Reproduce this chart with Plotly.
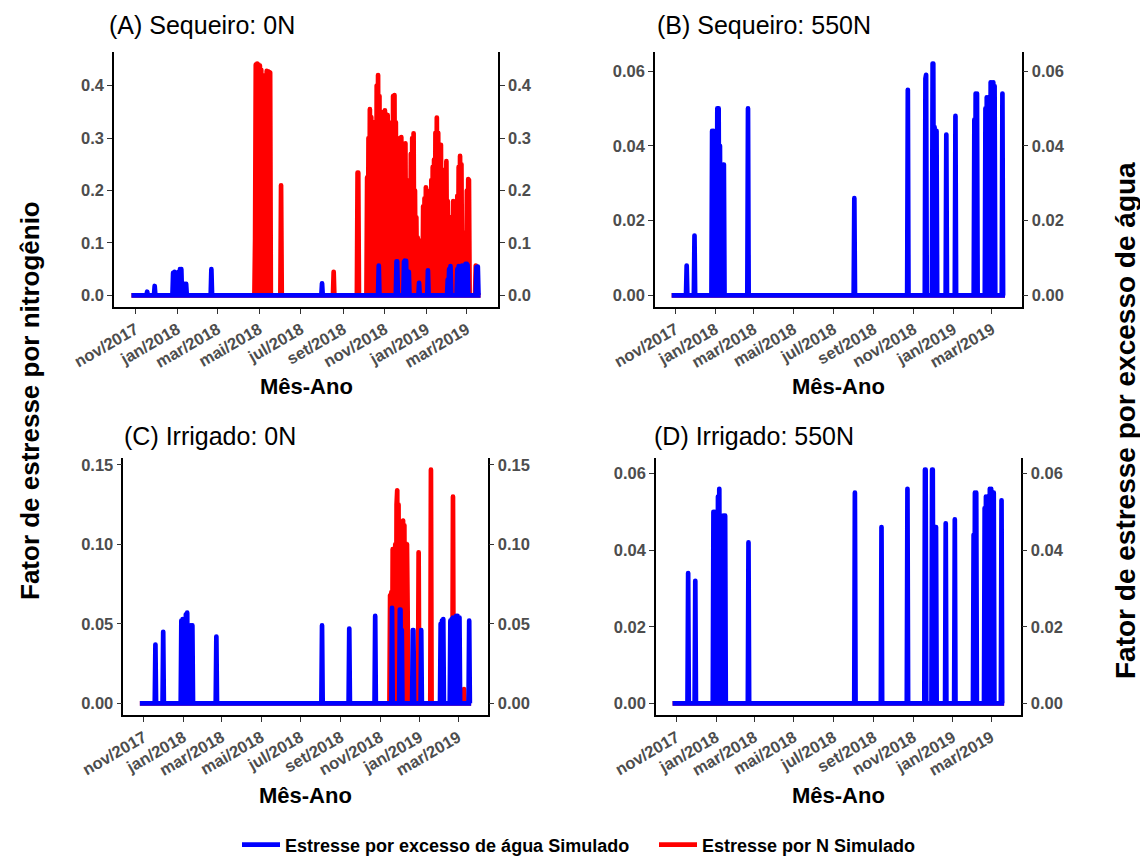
import pandas as pd
import plotly.graph_objects as go

# ---------------------------------------------------------------------------
# Simulated daily stress factors (zero on all days not listed)
# each entry: (first day, [consecutive daily values])
# ---------------------------------------------------------------------------
START = "2017-10-26"
END = "2019-03-21"

TICK_DATES = ["2017-11-01", "2018-01-01", "2018-03-01", "2018-05-01", "2018-07-01",
              "2018-09-01", "2018-11-01", "2019-01-01", "2019-03-01"]
TICK_LABELS = ["nov/2017", "jan/2018", "mar/2018", "mai/2018", "jul/2018",
               "set/2018", "nov/2018", "jan/2019", "mar/2019"]

PANEL_TITLES = ["(A) Sequeiro: 0N", "(B) Sequeiro: 550N",
                "(C) Irrigado: 0N", "(D) Irrigado: 550N"]

Y_TICKS_A = [0.0, 0.1, 0.2, 0.3, 0.4]
Y_TICKS_B = [0.00, 0.02, 0.04, 0.06]
Y_TICKS_C = [0.00, 0.05, 0.10, 0.15]
Y_TICKS_D = [0.00, 0.02, 0.04, 0.06]

WATER_NAME = "Estresse por excesso de água Simulado"
N_NAME = "Estresse por N Simulado"

# (A) Sequeiro 0N
A_WATER = [
    ("2017-11-18", [0.007]),
    ("2017-11-29", [0.018]),
    ("2017-12-26", [0.043, 0.0, 0.045, 0.0, 0.03, 0.0, 0.0, 0.0, 0.045, 0.0,
                    0.05, 0.0, 0.05, 0.0, 0.0, 0.02, 0.0, 0.022, 0.0, 0.022]),
    ("2018-02-20", [0.05]),
    ("2018-08-01", [0.023]),
    ("2018-10-23", [0.057]),
    ("2018-11-18", [0.065, 0.065]),
    ("2018-11-29", [0.064, 0.066, 0.0, 0.066, 0.0, 0.045, 0.0, 0.045]),
    ("2018-12-21", [0.024]),
    ("2019-01-03", [0.048]),
    ("2019-02-01", [0.03, 0.0, 0.05, 0.0, 0.056]),
    ("2019-02-15", [0.05, 0.0, 0.056, 0.0, 0.0, 0.055, 0.0, 0.057, 0.0, 0.0,
                    0.05, 0.0, 0.06, 0.0, 0.06, 0.058]),
    ("2019-03-15", [0.054, 0.0, 0.055]),
]
A_N = [
    ("2018-04-25", [0.108, 0.44, 0.0, 0.442, 0.0, 0.44, 0.0, 0.438, 0.0, 0.43,
                    0.0, 0.40, 0.0, 0.39, 0.0, 0.42, 0.0, 0.428, 0.0, 0.427,
                    0.0, 0.426, 0.425]),
    ("2018-06-02", [0.21]),
    ("2018-08-18", [0.045]),
    ("2018-09-22", [0.234, 0.234]),
    ("2018-10-06", [0.225, 0.0, 0.30, 0.0, 0.355, 0.0, 0.34, 0.0, 0.33, 0.0,
                    0.33, 0.0, 0.328, 0.0, 0.40, 0.0, 0.42, 0.0, 0.38, 0.0,
                    0.29, 0.0, 0.30, 0.0, 0.35, 0.0, 0.353, 0.0, 0.345, 0.0,
                    0.344, 0.0, 0.32, 0.0, 0.29, 0.0, 0.33, 0.0, 0.38, 0.0,
                    0.382, 0.0, 0.33, 0.0, 0.26, 0.0, 0.27, 0.0, 0.30, 0.0,
                    0.302, 0.0, 0.28, 0.0, 0.28, 0.0, 0.29, 0.0, 0.21, 0.0,
                    0.20, 0.0, 0.22, 0.0, 0.27, 0.0, 0.30, 0.0, 0.309, 0.0,
                    0.20, 0.0, 0.149, 0.0, 0.11, 0.0, 0.105, 0.0, 0.10, 0.0,
                    0.10, 0.0, 0.17, 0.0, 0.185, 0.0, 0.206, 0.0, 0.20, 0.0,
                    0.14, 0.0, 0.13, 0.0, 0.22, 0.0, 0.245, 0.0, 0.259, 0.0,
                    0.31, 0.0, 0.339, 0.0, 0.31, 0.0, 0.285, 0.0, 0.287, 0.0,
                    0.21, 0.0, 0.21, 0.0, 0.24, 0.0, 0.256, 0.0, 0.18, 0.0,
                    0.08, 0.0, 0.09, 0.0, 0.15, 0.0, 0.18, 0.0, 0.175, 0.0,
                    0.16, 0.0, 0.19, 0.0, 0.245, 0.0, 0.266, 0.0, 0.25, 0.0,
                    0.08, 0.0, 0.05, 0.0, 0.12, 0.0, 0.20, 0.0, 0.222, 0.22]),
    ("2019-03-14", [0.057]),
]

# (B) Sequeiro 550N
B_WATER = [
    ("2017-11-18", [0.008]),
    ("2017-11-30", [0.016]),
    ("2017-12-27", [0.044, 0.0, 0.044, 0.0, 0.0, 0.0, 0.04, 0.0, 0.05, 0.0,
                    0.05, 0.0, 0.04, 0.0, 0.0, 0.035, 0.0, 0.035, 0.035]),
    ("2018-02-20", [0.05]),
    ("2018-08-02", [0.026]),
    ("2018-10-23", [0.055]),
    ("2018-11-19", [0.058, 0.059]),
    ("2018-11-30", [0.062, 0.062, 0.0, 0.045, 0.0, 0.044, 0.044]),
    ("2018-12-21", [0.043]),
    ("2019-01-04", [0.048]),
    ("2019-02-02", [0.047, 0.0, 0.054, 0.0, 0.054]),
    ("2019-02-19", [0.05, 0.0, 0.053, 0.0, 0.053, 0.0, 0.03, 0.0, 0.057, 0.0,
                    0.057, 0.0, 0.057, 0.0, 0.056]),
    ("2019-03-17", [0.054]),
]
B_N = []  # no nitrogen stress simulated at 550N

# (C) Irrigado 0N
C_WATER = [
    ("2017-11-19", [0.037]),
    ("2017-12-01", [0.045]),
    ("2017-12-29", [0.052, 0.0, 0.053, 0.0, 0.0, 0.05, 0.0, 0.056, 0.0, 0.057,
                    0.0, 0.0, 0.04, 0.0, 0.049, 0.0, 0.049, 0.049]),
    ("2018-02-21", [0.042]),
    ("2018-08-03", [0.049]),
    ("2018-09-14", [0.047]),
    ("2018-10-24", [0.055]),
    ("2018-11-19", [0.06]),
    ("2018-12-01", [0.059, 0.059, 0.0, 0.046]),
    ("2018-12-21", [0.046, 0.046]),
    ("2019-01-03", [0.046]),
    ("2019-02-02", [0.05, 0.0, 0.052, 0.0, 0.053]),
    ("2019-02-17", [0.052, 0.0, 0.053, 0.0, 0.054, 0.0, 0.0, 0.05, 0.0, 0.055,
                    0.0, 0.055, 0.0, 0.054, 0.054]),
    ("2019-03-18", [0.052]),
]
C_N = [
    ("2018-11-16", [0.068, 0.0, 0.07, 0.0, 0.097, 0.0, 0.097, 0.0, 0.10, 0.0,
                    0.125, 0.134, 0.0, 0.125, 0.0, 0.108, 0.0, 0.108, 0.0, 0.113,
                    0.115, 0.0, 0.112, 0.0, 0.1005, 0.0, 0.10, 0.06]),
    ("2018-12-30", [0.095]),
    ("2019-01-18", [0.147]),
    ("2019-02-21", [0.13]),
    ("2019-03-10", [0.009]),
]

# (D) Irrigado 550N
D_WATER = [
    ("2017-11-19", [0.034]),
    ("2017-11-30", [0.032]),
    ("2017-12-28", [0.05, 0.0, 0.05, 0.0, 0.0, 0.03, 0.0, 0.054, 0.0, 0.056,
                    0.0, 0.035, 0.0, 0.04, 0.0, 0.049, 0.0, 0.049, 0.049]),
    ("2018-02-20", [0.042]),
    ("2018-08-03", [0.055]),
    ("2018-09-13", [0.046]),
    ("2018-10-23", [0.056]),
    ("2018-11-19", [0.061, 0.061]),
    ("2018-11-30", [0.061, 0.061, 0.0, 0.046, 0.0, 0.046, 0.046]),
    ("2018-12-21", [0.047]),
    ("2019-01-04", [0.048]),
    ("2019-02-02", [0.044, 0.0, 0.055, 0.0, 0.055]),
    ("2019-02-19", [0.051, 0.0, 0.054, 0.0, 0.054, 0.0, 0.03, 0.0, 0.056, 0.0,
                    0.056, 0.0, 0.055, 0.0, 0.055]),
    ("2019-03-17", [0.053]),
]
D_N = []  # no nitrogen stress simulated at 550N

# ---------------------------------------------------------------------------
FONT = "Liberation Sans, Arial, Helvetica, sans-serif"
BLUE = "#0000FF"
RED = "#FF0000"
TICK_COLOR = "#4D4D4D"
W, H = 1140, 856
LINE_W = 4.7


def daily(segments):
    idx = pd.date_range(START, END, freq="D")
    s = pd.Series(0.0, index=idx)
    for first, vals in segments:
        days = pd.date_range(first, periods=len(vals), freq="D")
        s.loc[days] = vals
    return s


# panel boxes in pixels: (left, right, top, bottom)
BOXES = [(114, 498, 52, 307), (655, 1021.7, 52, 307),
         (123.3, 487.7, 458, 715), (656, 1020.7, 458, 715)]
PANEL_DATA = [(A_WATER, A_N, Y_TICKS_A, ".1f"), (B_WATER, B_N, Y_TICKS_B, ".2f"),
              (C_WATER, C_N, Y_TICKS_C, ".2f"), (D_WATER, D_N, Y_TICKS_D, ".2f")]
TITLE_POS = [(107, 25), (655, 25), (122, 436), (652, 436)]

fig = go.Figure()

t0, t1 = pd.Timestamp(START), pd.Timestamp(END)
span = t1 - t0
x_range = [t0 - 0.05 * span, t1 + 0.05 * span]

tick_font = dict(family=FONT, size=16.5, color=TICK_COLOR, weight="bold")
axis_common = dict(showline=True, linecolor="black", linewidth=1.5, ticks="outside",
                   ticklen=5, tickwidth=1.2, tickcolor="#333333", showgrid=False,
                   zeroline=False, tickfont=tick_font, automargin=False)

annotations = []
for i, ((water, nitro, yticks, yfmt), (l, r, t, b)) in enumerate(zip(PANEL_DATA, BOXES)):
    xa = "x" if i == 0 else f"x{i + 1}"
    ya = "y" if i == 0 else f"y{2 * i + 1}"      # left axis: nitrogen stress
    ya_r = f"y{2 * i + 2}"                         # right axis: water-excess stress
    s_w = daily(water)
    s_n = daily(nitro)
    ymax = max(s_w.max(), s_n.max())
    y_range = [-0.05 * ymax, 1.05 * ymax]

    fig.add_trace(go.Scatter(x=s_n.index, y=s_n.values, mode="lines", name=N_NAME,
                             line=dict(color=RED, width=LINE_W, simplify=False),
                             xaxis=xa, yaxis=ya, showlegend=(i == 0),
                             legendrank=2, hoverinfo="skip"))
    fig.add_trace(go.Scatter(x=s_w.index, y=s_w.values, mode="lines", name=WATER_NAME,
                             line=dict(color=BLUE, width=LINE_W, simplify=False),
                             xaxis=xa, yaxis=ya_r, showlegend=(i == 0),
                             legendrank=1, hoverinfo="skip"))

    xkey = "xaxis" if i == 0 else f"xaxis{i + 1}"
    ykey = "yaxis" if i == 0 else f"yaxis{2 * i + 1}"
    yrkey = f"yaxis{2 * i + 2}"
    fig.layout[xkey] = dict(domain=[l / W, r / W], anchor=ya, type="date", range=x_range,
                            tickmode="array", tickvals=TICK_DATES, ticktext=TICK_LABELS,
                            tickangle=-30, **axis_common)
    fig.layout[ykey] = dict(domain=[1 - b / H, 1 - t / H], anchor=xa, range=y_range,
                            tickmode="array", tickvals=yticks, tickformat=yfmt,
                            **axis_common)
    fig.layout[yrkey] = dict(overlaying=ya, anchor=xa, side="right", range=y_range,
                             tickmode="array", tickvals=yticks, tickformat=yfmt,
                             **axis_common)

    tx, ty = TITLE_POS[i]
    annotations.append(dict(text=PANEL_TITLES[i], x=tx / W, y=1 - ty / H, xref="paper",
                            yref="paper", xanchor="left", yanchor="middle",
                            showarrow=False, font=dict(family=FONT, size=25, color="black")))
    annotations.append(dict(text="Mês-Ano", x=(l + r) / 2 / W, y=1 - (b + 80) / H,
                            xref="paper", yref="paper", xanchor="center", yanchor="middle",
                            showarrow=False,
                            font=dict(family=FONT, size=22, color="black", weight="bold")))

annotations.append(dict(text="Fator de estresse por nitrogênio", x=30 / W, y=1 - 401 / H,
                        xref="paper", yref="paper", xanchor="center", yanchor="middle",
                        textangle=-90, showarrow=False,
                        font=dict(family=FONT, size=26, color="black", weight="bold")))
annotations.append(dict(text="Fator de estresse por excesso de água", x=1125 / W,
                        y=1 - 421 / H, xref="paper", yref="paper", xanchor="center",
                        yanchor="middle", textangle=-90, showarrow=False,
                        font=dict(family=FONT, size=28, color="black", weight="bold")))

fig.update_layout(
    template="none",
    width=W, height=H,
    margin=dict(l=0, r=0, t=0, b=0, autoexpand=False),
    paper_bgcolor="white", plot_bgcolor="white",
    annotations=annotations,
    showlegend=True,
    legend=dict(orientation="h", x=237 / W, xanchor="left", y=1 - 845 / H,
                yanchor="middle", font=dict(family=FONT, size=18, color="black",
                                            weight="bold"),
                itemwidth=38, entrywidth=364, entrywidthmode="pixels",
                bgcolor="rgba(0,0,0,0)"),
)

# rounded joins on the series lines (peaks get rounded tips)
ROUND_JOINS = """
var st = document.createElement('style');
st.textContent = '.scatterlayer .js-line { stroke-linejoin: round !important; }';
document.head.appendChild(st);
"""

fig.write_html("out.html", post_script=ROUND_JOINS)
